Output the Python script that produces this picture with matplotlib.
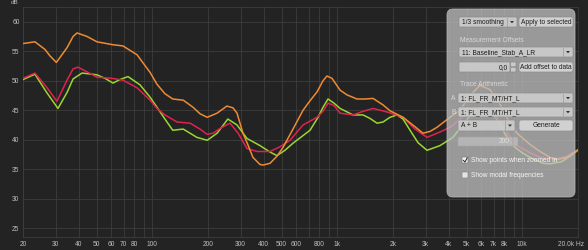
import matplotlib
matplotlib.use("Agg")
import matplotlib.pyplot as plt
from matplotlib.patches import FancyBboxPatch, Polygon
from matplotlib.transforms import ScaledTranslation

# traces (Hz, dB)
orange_freq = [20, 23.2, 26.3, 28.0, 30.3, 34.6, 37.3, 39.2, 44.4, 50.2, 61.3, 69.4, 82.7, 97.3,
               106, 117, 129, 147, 166, 181, 198, 224, 253, 273, 287, 309, 325, 350, 382, 397,
               433, 472, 509, 576, 653, 712, 777, 837, 880, 936, 1035, 1128, 1277, 1412, 1560,
               1766, 1927, 2266, 2630, 2904, 3170, 3458, 4066, 4605, 5216, 5906, 6687, 7575,
               8577, 9357, 11010, 12470, 14120, 15390, 17450, 20000]
orange_db = [56.3, 56.6, 55.3, 54.2, 53.1, 55.6, 57.5, 58.1, 57.5, 56.6, 56.1, 55.9, 54.4, 51.4,
             49.4, 47.8, 46.9, 46.7, 45.5, 44.4, 43.8, 44.5, 45.7, 45.4, 44.5, 41.1, 39.5, 37.0, 35.8, 35.7,
             36.0, 37.2, 38.7, 41.8, 45.0, 46.6, 48.1, 50.0, 50.8, 50.4, 48.4, 47.6, 46.9, 46.9, 47.0,
             45.9, 44.9, 43.8, 42.2, 41.1, 41.4, 42.1, 43.8, 45.0, 47.5, 49.2, 48.5, 46.0,
             42.8, 41.1, 39.2, 38.0, 37.0, 36.6, 37.0, 38.3]

red_freq = [20, 23.2, 27.0, 30.5, 34.6, 37.3, 39.6, 44.4, 50.2, 60.6, 69.4, 82.7, 97.3, 106, 117,
            136, 160, 181, 198, 213, 232, 263, 291, 325, 368, 433, 490, 555, 653, 777, 837, 891,
            959, 1035, 1216, 1377, 1560, 1856, 2266, 2630, 3054, 3590, 4066, 4605, 5216, 5906,
            6687, 7575, 8577, 9357, 11010, 12470, 13590, 15390, 17450, 20000]
red_db = [50.4, 51.3, 48.8, 46.5, 50.1, 52.0, 52.3, 51.5, 50.6, 50.4, 50.1, 48.8, 46.7, 45.3, 44.2,
          43.0, 42.8, 41.8, 40.9, 41.1, 41.9, 42.8, 41.1, 38.5, 38.0, 38.0, 38.8, 39.9, 42.5, 43.8, 44.8, 46.2,
          45.8, 44.5, 44.2, 44.8, 45.3, 44.7, 43.8, 41.8, 40.4, 41.3, 42.1, 43.5, 45.0, 45.5,
          45.0, 43.0, 40.5, 39.0, 37.8, 37.0, 36.8, 36.8, 37.2, 38.3]

green_freq = [20, 23.2, 27.0, 30.9, 34.6, 37.3, 41.7, 50.2, 55.5, 61.3, 66.9, 73.9, 85.8, 97.3, 106,
              117, 129, 147, 174, 198, 224, 256, 287, 325, 382, 433, 472, 521, 576, 712, 787, 837,
              891, 959, 1035, 1216, 1377, 1503, 1640, 1766, 1927, 2102, 2266, 2473, 2730, 3054,
              3590, 4220, 4900, 5548, 6282, 7114, 8057, 8910, 9960, 11010, 12940, 14120, 16400,
              18100, 20000]
green_db = [50.2, 51.1, 47.9, 45.3, 48.0, 50.3, 51.3, 51.0, 50.4, 49.6, 50.2, 50.7, 49.3, 47.2, 45.5,
            43.5, 41.6, 41.8, 40.4, 39.9, 41.1, 43.5, 42.5, 40.2, 39.0, 37.9, 37.3, 38.2, 39.4, 41.6, 43.8, 45.5,
            46.9, 46.2, 45.3, 44.2, 44.2, 43.6, 42.8, 43.0, 43.8, 44.2, 43.5, 41.6, 39.5, 38.2,
            39.0, 40.4, 43.0, 45.0, 45.5, 44.0, 41.0, 39.0, 37.8, 37.0, 36.0, 35.9, 36.3,
            37.2, 38.2]

x_ticks = [20, 30, 40, 50, 60, 70, 80, 100, 200, 300, 400, 500, 600, 800,
           1000, 2000, 3000, 4000, 5000, 6000, 7000, 8000, 10000, 20000]
x_labels = ['20', '30', '40', '50', '60', '70', '80', '100', '200', '300', '400', '500', '600', '800',
            '1k', '2k', '3k', '4k', '5k', '6k', '7k', '8k', '10k', '20.0k Hz']
x_minor = [90, 700, 900, 9000]
y_ticks = [25, 30, 35, 40, 45, 50, 55, 60]

FONT = 'Liberation Sans'
BG = '#232323'
GRID = '#3d3d3d'
TXT = '#bdbdbd'

fig = plt.figure(figsize=(5.88, 2.5), dpi=100)
fig.patch.set_facecolor(BG)
ax = fig.add_axes([23 / 588, 13 / 250, 555 / 588, 230 / 250])
ax.set_facecolor(BG)

ax.plot(green_freq, green_db, color='#9ad630', lw=1.1, zorder=3)
ax.plot(red_freq, red_db, color='#e0224f', lw=1.1, zorder=4)
ax.plot(orange_freq, orange_db, color='#f08a32', lw=1.1, zorder=5)

ax.set_xscale('log')
ax.set_xlim(20, 20000)
ax.set_ylim(23.5, 62.5)
ax.set_xticks(x_ticks)
ax.set_xticklabels(x_labels)
ax.set_xticks(x_minor, minor=True)
ax.set_xticklabels([], minor=True)
ax.set_yticks(y_ticks)
ax.set_yticklabels([str(v) for v in y_ticks])
ax.tick_params(which='both', length=0, colors=TXT, labelsize=4.8)
ax.tick_params(axis='x', pad=3)
ax.tick_params(axis='y', pad=2.5)
for lab in ax.get_xticklabels() + ax.get_yticklabels():
    lab.set_fontfamily(FONT)
# last label sits a little left of its gridline
last = ax.get_xticklabels()[-1]
last.set_transform(last.get_transform() + ScaledTranslation(-7 / 100, 0, fig.dpi_scale_trans))
ax.grid(True, which='both', color=GRID, lw=0.6)
for s in ax.spines.values():
    s.set_color(GRID)
    s.set_linewidth(0.6)
fig.text(15 / 588, 1 - 0.5 / 250, 'dB', color=TXT, fontsize=4.6, family=FONT, ha='center', va='top')

# ---- floating control panel, drawn in pixel coordinates
ov = fig.add_axes([0, 0, 1, 1], zorder=10)
ov.set_xlim(0, 588)
ov.set_ylim(250, 0)
ov.axis('off')
ov.patch.set_alpha(0)


def rbox(x0, y0, x1, y1, fc, ec, r, lw=0.5, alpha=1.0):
    ov.add_patch(FancyBboxPatch((x0, y0), x1 - x0, y1 - y0,
                                boxstyle=f"round,pad=0,rounding_size={r}",
                                fc=fc, ec=ec, lw=lw, alpha=alpha))


def label(x, y, s, color='#1c1c1c', ha='left', size=4.75, alpha=1.0):
    ov.text(x, y, s, color=color, ha=ha, va='center', fontsize=size, family=FONT, alpha=alpha)


def combo(x0, y0, x1, y1, s, aw=10):
    rbox(x0, y0, x1, y1, '#cdcdcd', '#8a8a8a', 1.2, alpha=0.9)
    ov.plot([x1 - aw, x1 - aw], [y0 + 1, y1 - 1], color='#9a9a9a', lw=0.5)
    cx, cy = x1 - aw / 2, (y0 + y1) / 2
    ov.add_patch(Polygon([(cx - 2, cy - 1), (cx + 2, cy - 1), (cx, cy + 1.3)], fc='#333333', ec='none'))
    label(x0 + 3, cy + 0.3, s)


def button(x0, y0, x1, y1, s):
    rbox(x0, y0, x1, y1, '#d6d6d6', '#8a8a8a', 2.2, alpha=0.92)
    label((x0 + x1) / 2, (y0 + y1) / 2 + 0.3, s, ha='center')


rbox(447, 9, 575, 197, '#c3c3c3', '#bcbcbc', 6, lw=0.7, alpha=0.74)

combo(459, 17, 517, 27, '1/3 smoothing')
button(519, 17, 573, 27, 'Apply to selected')
label(460, 40, 'Measurement Offsets', color='#e8e8e8', alpha=0.8)
combo(459, 47, 573, 57, '11: Baseline_Stab_A_LR')
rbox(459, 62, 510, 72, '#cdcdcd', '#8a8a8a', 1.0, alpha=0.9)
label(508, 67.3, '0,0', ha='right')
rbox(510.5, 62, 516, 66.8, '#cacaca', '#8a8a8a', 0.8)
rbox(510.5, 67.2, 516, 72, '#cacaca', '#8a8a8a', 0.8)
button(519, 62, 573, 72, 'Add offset to data')
label(460, 85, 'Trace Arithmetic', color='#e8e8e8', alpha=0.8)
label(451, 98, 'A', color='#e8e8e8', alpha=0.8)
combo(458, 93, 573, 103, '1: FL_FR_MT/HT_L')
label(451, 112, 'B', color='#e8e8e8', alpha=0.8)
combo(458, 107, 573, 117, '1: FL_FR_MT/HT_L')
combo(458, 120, 515, 131, 'A + B')
button(519, 120, 573, 131, 'Generate')
rbox(458, 137, 513, 146, '#bcbcbc', '#a4a4a4', 1.0, alpha=0.8)
label(510, 141.8, '200', ha='right', color='#e0e0e0')
rbox(513, 137, 518, 146, '#bcbcbc', '#a4a4a4', 0.8, alpha=0.8)

rbox(462, 157, 468, 163, '#f4f4f4', '#7a7a7a', 0.6)
ov.plot([463.3, 465, 467.2], [160.3, 162, 157.8], color='#222222', lw=0.7)
label(471, 160.3, 'Show points when zoomed in', color='#f6f6f6')
rbox(462, 172, 468, 178, '#e4e4e4', '#8a8a8a', 0.6)
label(471, 175.3, 'Show modal frequencies', color='#f6f6f6')

fig.savefig('out.png', dpi=100, facecolor=BG)
